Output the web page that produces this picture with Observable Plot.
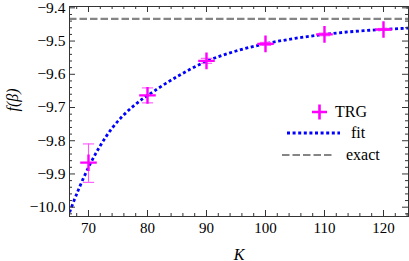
<!DOCTYPE html>
<html><head><meta charset="utf-8">
<script src="https://cdn.jsdelivr.net/npm/d3@7"></script>
<script src="https://cdn.jsdelivr.net/npm/@observablehq/plot@0.6"></script>
<style>
body{margin:0;background:#fff}
#wrap{position:relative;width:409px;height:261px;font-family:"Liberation Serif","Times New Roman",serif}
#wrap svg{display:block}
#wrap svg text{font-family:"Liberation Serif","Times New Roman",serif}
.leg{position:absolute;font-size:16px;line-height:16px;color:#000;white-space:nowrap}
</style></head><body><div id="wrap"></div><script>
// TRG data
const K = [70, 80, 90, 100, 110, 120];
const fTRG = [-9.866, -9.6635, -9.5597, -9.5084, -9.480, -9.465];
const errLo = [-9.9253, -9.686, -9.567, -9.513, -9.484, -9.468];
const errHi = [-9.8096, -9.641, -9.552, -9.504, -9.476, -9.462];
// fit curve
const fitK = [66.8, 68, 70, 72, 74, 76, 78, 80, 85, 90, 95, 100, 105, 110, 115, 120, 124.2];
const fitF = [-10.015, -9.96, -9.88, -9.815, -9.762, -9.722, -9.69, -9.664, -9.607, -9.561, -9.530, -9.508, -9.492, -9.480, -9.471, -9.465, -9.461];
// exact value
const exactF = [-9.4331];
// ticks
const xMajor = [70, 80, 90, 100, 110, 120];
const xMinor = [68, 72, 74, 76, 78, 82, 84, 86, 88, 92, 94, 96, 98, 102, 104, 106, 108, 112, 114, 116, 118, 122, 124];
const yMajor = [-10.0, -9.9, -9.8, -9.7, -9.6, -9.5, -9.4];
const yMinor = [-10.02, -9.98, -9.96, -9.94, -9.92, -9.88, -9.86, -9.84, -9.82, -9.78, -9.76, -9.74, -9.72, -9.68, -9.66, -9.64, -9.62, -9.58, -9.56, -9.54, -9.52, -9.48, -9.46, -9.44, -9.42];

const pts = K.map((k, i) => ({K: k, f: fTRG[i], lo: errLo[i], hi: errHi[i]}));
const fit = fitK.map((k, i) => ({K: k, f: fitF[i]}));

const W = 409, H = 261, ML = 69, MR = 1, MT = 6, MB = 45;
const PW = W - ML - MR, PH = H - MT - MB;
const axisColor = "#333";
const fmt = d3.format(".1f");
const serif = "'Liberation Serif', 'Times New Roman', serif";

const chart = Plot.plot({
  width: W, height: H,
  marginLeft: ML, marginRight: MR, marginTop: MT, marginBottom: MB,
  style: {fontFamily: serif, fontSize: "15px", color: "#000", background: "#fff"},
  x: {domain: [66.78, 124.24]},
  y: {domain: [-10.028, -9.396]},
  marks: [
    Plot.ruleY(exactF, {stroke: "#858585", strokeWidth: 2.2, strokeDasharray: "7.5,3"}),
    Plot.line(fit, {x: "K", y: "f", curve: "catmull-rom", stroke: "#0000ff", strokeWidth: 2.8, strokeDasharray: "3,2.6", strokeLinecap: "butt", clip: true}),
    Plot.ruleX(pts, {x: "K", y1: "lo", y2: "hi", stroke: "#ff55ff", strokeWidth: 1.1}),
    Plot.link(pts, {x1: d => d.K - 0.95, x2: d => d.K + 0.95, y1: "lo", y2: "lo", stroke: "#ff55ff", strokeWidth: 1.1}),
    Plot.link(pts, {x1: d => d.K - 0.95, x2: d => d.K + 0.95, y1: "hi", y2: "hi", stroke: "#ff55ff", strokeWidth: 1.1}),
    Plot.dot(pts, {x: "K", y: "f", symbol: "plus", r: 5.4, stroke: "#ff00ff", strokeWidth: 2.4, fill: "none"}),
    // frame ticks
    Plot.tickY(yMajor, {insetRight: PW - 6, stroke: axisColor}),
    Plot.tickY(yMinor, {insetRight: PW - 3, stroke: axisColor}),
    Plot.tickY(yMajor, {insetLeft: PW - 6, stroke: axisColor}),
    Plot.tickY(yMinor, {insetLeft: PW - 3, stroke: axisColor}),
    Plot.tickX(xMajor, {insetTop: PH - 6, stroke: axisColor}),
    Plot.tickX(xMinor, {insetTop: PH - 3, stroke: axisColor}),
    Plot.tickX(xMajor, {insetBottom: PH - 6, stroke: axisColor}),
    Plot.tickX(xMinor, {insetBottom: PH - 3, stroke: axisColor}),
    Plot.axisY(yMajor, {anchor: "left", tickSize: 0, tickPadding: 4, tickFormat: fmt, fontSize: 15.5, fontFamily: serif, label: null}),
    Plot.axisX(xMajor, {anchor: "bottom", tickSize: 0, tickPadding: 6, tickFormat: d => String(d), fontSize: 15, fontFamily: serif, label: null}),
    Plot.frame({stroke: axisColor, strokeWidth: 1}),
    Plot.text(["f(β)"], {frameAnchor: "left", dx: -57, rotate: -90, fontStyle: "italic", fontSize: 16, fontFamily: serif}),
    Plot.text(["K"], {frameAnchor: "bottom", dy: 43, fontStyle: "italic", fontSize: 16, fontFamily: serif})
  ]
});

const wrap = document.getElementById("wrap");
wrap.appendChild(chart);

// legend overlay
function legItem(svgInner, sx, sy, sw, sh, label, tx, ty) {
  const s = document.createElementNS("http://www.w3.org/2000/svg", "svg");
  s.setAttribute("width", sw); s.setAttribute("height", sh);
  s.style.position = "absolute"; s.style.left = sx + "px"; s.style.top = sy + "px";
  s.innerHTML = svgInner;
  wrap.appendChild(s);
  const t = document.createElement("div");
  t.className = "leg"; t.textContent = label;
  t.style.left = tx + "px"; t.style.top = (ty - 8) + "px";
  wrap.appendChild(t);
}
legItem('<path d="M1,8H16M8.5,0.5V15.5" stroke="#ff00ff" stroke-width="2.6" fill="none"/>', 311, 104, 17, 17, "TRG", 335, 112);
legItem('<line x1="0" y1="3" x2="53" y2="3" stroke="#0000ff" stroke-width="2.8" stroke-dasharray="3,2.6"/>', 287, 130, 54, 6, "fit", 351, 133);
legItem('<line x1="0" y1="3" x2="51" y2="3" stroke="#858585" stroke-width="2.2" stroke-dasharray="7.5,3"/>', 282, 152, 52, 6, "exact", 346, 155);
</script></body></html>
